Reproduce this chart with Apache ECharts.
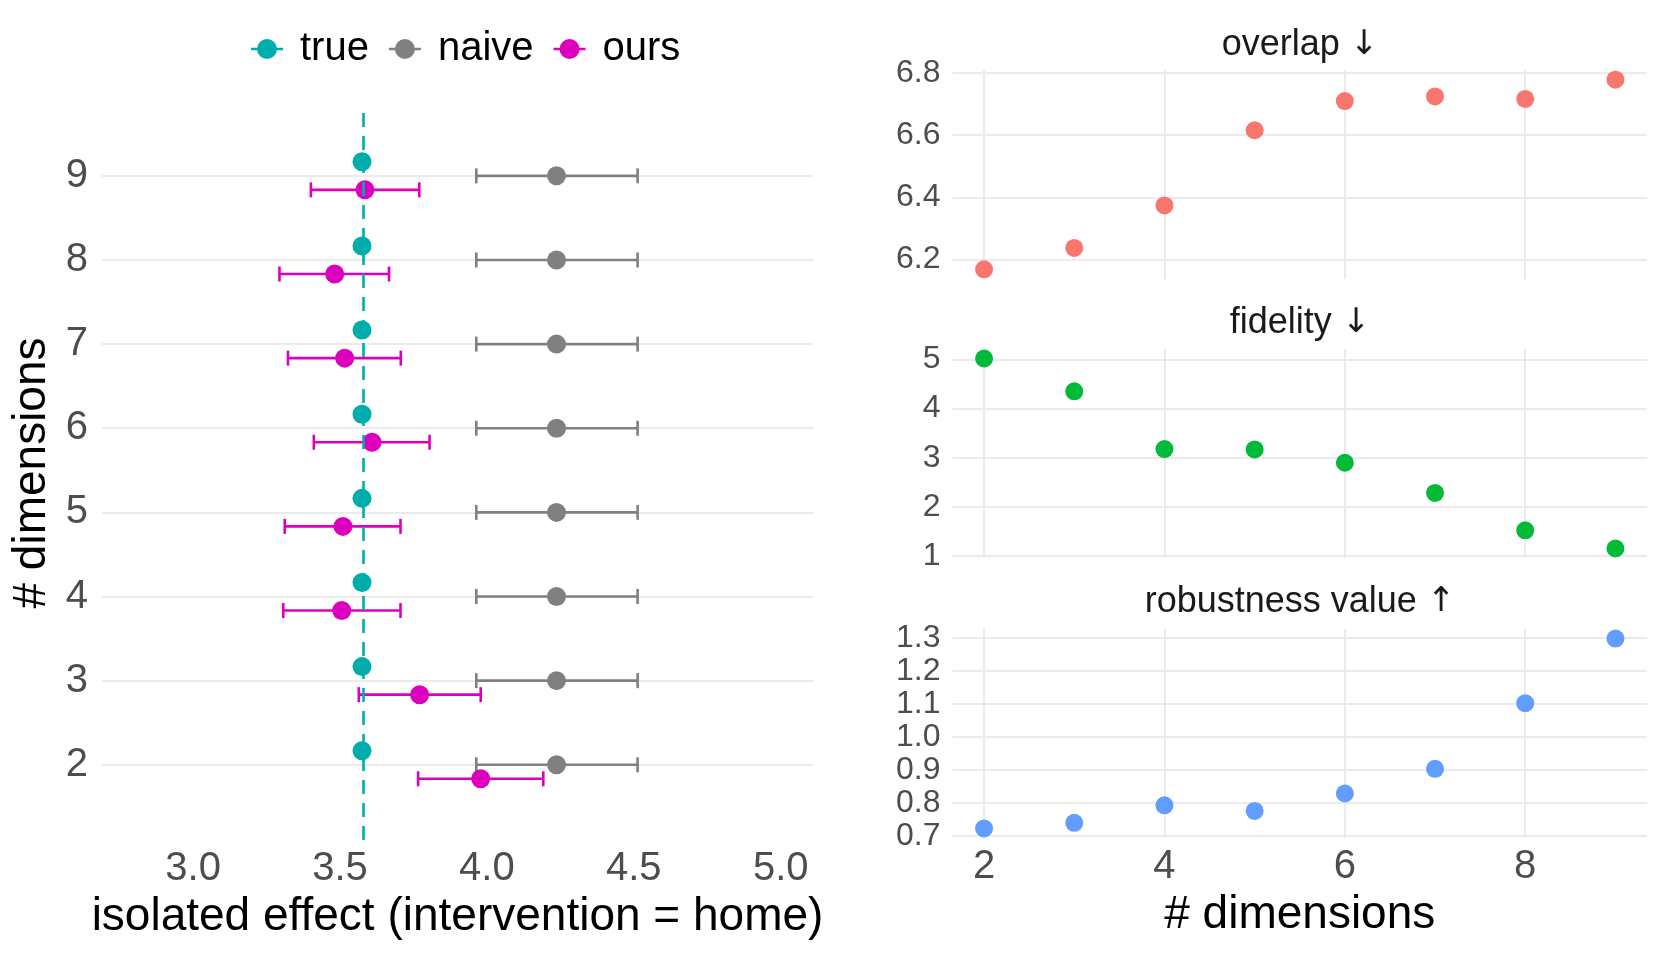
<!DOCTYPE html>
<html>
<head>
<meta charset="utf-8">
<script src="https://cdn.jsdelivr.net/npm/echarts@6/dist/echarts.min.js"></script>
<style>
html,body{margin:0;padding:0;background:#fff;}
#chart{width:1661px;height:955px;}
</style>
</head>
<body>
<div id="chart"></div>
<script>
// ---------- data ----------
const dims = [2, 3, 4, 5, 6, 7, 8, 9];
const trueVals  = [3.575, 3.575, 3.575, 3.575, 3.575, 3.575, 3.575, 3.575];
const naiveVals = [4.237, 4.237, 4.237, 4.237, 4.237, 4.237, 4.237, 4.237];
const naiveLow  = [3.964, 3.964, 3.964, 3.964, 3.964, 3.964, 3.964, 3.964];
const naiveHigh = [4.513, 4.513, 4.513, 4.513, 4.513, 4.513, 4.513, 4.513];
const oursVals  = [3.979, 3.771, 3.506, 3.510, 3.609, 3.516, 3.482, 3.585];
const oursLow   = [3.766, 3.564, 3.307, 3.312, 3.411, 3.323, 3.294, 3.401];
const oursHigh  = [4.192, 3.979, 3.706, 3.706, 3.805, 3.707, 3.667, 3.770];
const trueEffect = 3.575;

const overlap    = [6.168, 6.237, 6.374, 6.616, 6.710, 6.725, 6.717, 6.779];
const fidelity   = [5.02, 4.353, 3.177, 3.17, 2.90, 2.285, 1.525, 1.156];
const robustness = [0.722, 0.739, 0.792, 0.775, 0.828, 0.903, 1.102, 1.298];

const leftXTicks = [3.0, 3.5, 4.0, 4.5, 5.0];
const rightXTicks = [2, 4, 6, 8];
const overlapTicks = [6.2, 6.4, 6.6, 6.8];
const fidelityTicks = [1, 2, 3, 4, 5];
const robustTicks = [0.7, 0.8, 0.9, 1.0, 1.1, 1.2, 1.3];

const panelTitles = ['overlap', 'fidelity', 'robustness value'];
const panelArrows = ['\u2193', '\u2193', '\u2191'];
const seriesNames = ['true', 'naive', 'ours'];

// ---------- styling ----------
const FONT = 'Liberation Sans, Arial, Helvetica, sans-serif';
const C_TRUE = '#00ADAD', C_NAIVE = '#808080', C_OURS = '#DC00BE';
const C_OVL = '#F8766D', C_FID = '#00BA38', C_ROB = '#619CFF';
const GRID_C = '#EBEBEB';
const TICK_C = '#4D4D4D';
const DODGE = 1 / 6;

const chart = echarts.init(document.getElementById('chart'), null, {renderer: 'canvas'});

function errBar(color) {
  return function (params, api) {
    const y = api.value(0), lo = api.value(1), hi = api.value(2);
    const a = api.coord([lo, y]), b = api.coord([hi, y]);
    const h = 7.5;
    const st = {stroke: color, lineWidth: 2.6};
    return {type: 'group', children: [
      {type: 'line', shape: {x1: a[0], y1: a[1], x2: b[0], y2: b[1]}, style: st},
      {type: 'line', shape: {x1: a[0], y1: a[1] - h, x2: a[0], y2: a[1] + h}, style: st},
      {type: 'line', shape: {x1: b[0], y1: b[1] - h, x2: b[0], y2: b[1] + h}, style: st}
    ]};
  };
}

const legendIcon = 'path://M0,8.7 L32,8.7 L32,11.3 L0,11.3 Z M26,10 A10,10 0 1 1 6,10 A10,10 0 1 1 26,10 Z';

function rightY(gridIndex, min, max, ticks, digits) {
  return {
    type: 'value', gridIndex: gridIndex, min: min, max: max,
    axisLine: {show: false}, axisTick: {show: false, customValues: ticks},
    axisLabel: {customValues: ticks, fontFamily: FONT, fontSize: 32, color: TICK_C, margin: 12,
      formatter: v => v.toFixed(digits)},
    splitLine: {show: true, lineStyle: {color: GRID_C, width: 2}}
  };
}
function rightX(gridIndex, showLabels) {
  return {
    type: 'value', gridIndex: gridIndex, min: 1.65, max: 9.35,
    axisLine: {show: false}, axisTick: {show: false, customValues: rightXTicks},
    axisLabel: {show: showLabels, customValues: rightXTicks, fontFamily: FONT, fontSize: 40, color: TICK_C, margin: 9},
    splitLine: {show: true, lineStyle: {color: GRID_C, width: 2}},
    name: showLabels ? '# dimensions' : '', nameLocation: 'middle', nameGap: 54,
    nameTextStyle: {fontFamily: FONT, fontSize: 46, color: '#000'}
  };
}

const option = {
  backgroundColor: '#fff',
  animation: false,
  legend: {
    left: 251, top: 29, padding: 0, itemGap: 20, itemWidth: 32, itemHeight: 20,
    textStyle: {fontFamily: FONT, fontSize: 40, color: '#000', padding: [0, 0, 0, 12]},
    data: seriesNames.map(n => ({name: n, icon: legendIcon}))
  },
  grid: [
    {left: 102, top: 106, width: 711, height: 734},
    {left: 952.5, top: 70, width: 694.5, height: 209},
    {left: 952.5, top: 349, width: 694.5, height: 209},
    {left: 952.5, top: 629, width: 694.5, height: 209}
  ],
  xAxis: [
    {
      type: 'value', gridIndex: 0, min: 2.69, max: 5.11,
      axisLine: {show: false}, axisTick: {show: false, customValues: leftXTicks},
      axisLabel: {customValues: leftXTicks, fontFamily: FONT, fontSize: 40, color: TICK_C, margin: 9,
        formatter: v => v.toFixed(1)},
      splitLine: {show: false},
      name: 'isolated effect (intervention = home)', nameLocation: 'middle', nameGap: 52,
      nameTextStyle: {fontFamily: FONT, fontSize: 46, color: '#000'}
    },
    rightX(1, false), rightX(2, false), rightX(3, true)
  ],
  yAxis: [
    {
      type: 'value', gridIndex: 0, min: 1.106, max: 9.83,
      axisLine: {show: false}, axisTick: {show: false, customValues: dims},
      axisLabel: {customValues: dims, fontFamily: FONT, fontSize: 40, color: TICK_C, margin: 14},
      splitLine: {show: true, lineStyle: {color: GRID_C, width: 2}},
      name: '# dimensions', nameLocation: 'middle', nameRotate: 90, nameGap: 47,
      nameTextStyle: {fontFamily: FONT, fontSize: 46, color: '#000'}
    },
    rightY(1, 6.137, 6.81, overlapTicks, 1),
    rightY(2, 0.963, 5.213, fidelityTicks, 0),
    rightY(3, 0.693, 1.327, robustTicks, 1)
  ],
  graphic: panelTitles.map((t, i) => ({
    type: 'text', x: 1300, y: [45, 323, 602.5][i],
    style: {
      text: t + ' {a|' + panelArrows[i] + '}',
      fontFamily: FONT, fontSize: 36, fill: '#1a1a1a', textAlign: 'center', textVerticalAlign: 'middle',
      rich: {a: {fontFamily: 'DejaVu Sans', fontSize: 34, fill: '#1a1a1a'}}
    }
  })),
  series: [
    {
      name: 'naive-ci', type: 'custom', xAxisIndex: 0, yAxisIndex: 0, z: 2,
      renderItem: errBar(C_NAIVE), encode: {x: [1, 2], y: 0},
      data: dims.map((d, i) => [d, naiveLow[i], naiveHigh[i]])
    },
    {
      name: 'ours-ci', type: 'custom', xAxisIndex: 0, yAxisIndex: 0, z: 2,
      renderItem: errBar(C_OURS), encode: {x: [1, 2], y: 0},
      data: dims.map((d, i) => [d - DODGE, oursLow[i], oursHigh[i]])
    },
    {
      name: 'true', type: 'scatter', xAxisIndex: 0, yAxisIndex: 0, z: 3,
      symbolSize: 19, itemStyle: {color: C_TRUE, opacity: 1},
      data: dims.map((d, i) => [trueVals[i], d + DODGE]),
      markLine: {
        silent: true, symbol: 'none', z: 5, label: {show: false},
        lineStyle: {color: C_TRUE, width: 2.6, type: [14, 9]},
        data: [{xAxis: trueEffect}]
      }
    },
    {
      name: 'naive', type: 'scatter', xAxisIndex: 0, yAxisIndex: 0, z: 3,
      symbolSize: 19, itemStyle: {color: C_NAIVE, opacity: 1},
      data: dims.map((d, i) => [naiveVals[i], d])
    },
    {
      name: 'ours', type: 'scatter', xAxisIndex: 0, yAxisIndex: 0, z: 3,
      symbolSize: 19, itemStyle: {color: C_OURS, opacity: 1},
      data: dims.map((d, i) => [oursVals[i], d - DODGE])
    },
    {
      name: 'overlap', type: 'scatter', xAxisIndex: 1, yAxisIndex: 1,
      symbolSize: 18, itemStyle: {color: C_OVL, opacity: 1},
      data: dims.map((d, i) => [d, overlap[i]])
    },
    {
      name: 'fidelity', type: 'scatter', xAxisIndex: 2, yAxisIndex: 2,
      symbolSize: 18, itemStyle: {color: C_FID, opacity: 1},
      data: dims.map((d, i) => [d, fidelity[i]])
    },
    {
      name: 'robustness', type: 'scatter', xAxisIndex: 3, yAxisIndex: 3,
      symbolSize: 18, itemStyle: {color: C_ROB, opacity: 1},
      data: dims.map((d, i) => [d, robustness[i]])
    }
  ]
};
chart.setOption(option);
</script>
</body>
</html>
